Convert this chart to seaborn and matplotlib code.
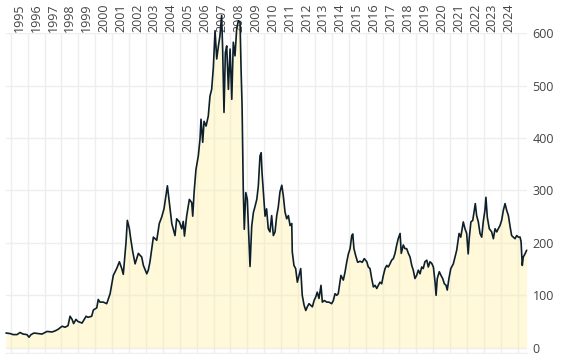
import matplotlib
matplotlib.use("Agg")
import matplotlib.pyplot as plt
import seaborn as sns

# decimal year of each reading
years = [
    1994.72, 1994.96, 1995.14, 1995.37, 1995.55, 1995.73, 1995.96, 1996.08, 1996.20, 1996.38,
    1996.62, 1996.85, 1997.15, 1997.44, 1997.62, 1997.80, 1998.04, 1998.21, 1998.39, 1998.51,
    1998.63, 1998.72, 1998.86, 1998.98, 1999.22, 1999.46, 1999.57, 1999.79, 1999.89, 2000.09,
    2000.18, 2000.28, 2000.48, 2000.68, 2000.88, 2001.07, 2001.27, 2001.43, 2001.57, 2001.66,
    2001.82, 2001.90, 2002.02, 2002.10, 2002.22, 2002.36, 2002.55, 2002.75, 2002.85, 2003.05,
    2003.14, 2003.24, 2003.44, 2003.64, 2003.79, 2003.93, 2004.07, 2004.19, 2004.27, 2004.38,
    2004.53, 2004.72, 2004.82, 2004.98, 2005.12, 2005.21, 2005.28, 2005.41, 2005.57, 2005.71,
    2005.77, 2005.85, 2005.96, 2006.10, 2006.20, 2006.26, 2006.36, 2006.44, 2006.56, 2006.69,
    2006.79, 2006.89, 2006.99, 2007.09, 2007.19, 2007.29, 2007.38, 2007.48, 2007.54, 2007.62,
    2007.70, 2007.78, 2007.88, 2007.98, 2008.08, 2008.17, 2008.27, 2008.37, 2008.47, 2008.57,
    2008.63, 2008.69, 2008.76, 2008.82, 2008.91, 2009.00, 2009.08, 2009.16, 2009.26, 2009.36,
    2009.46, 2009.56, 2009.65, 2009.75, 2009.82, 2009.87, 2009.95, 2010.05, 2010.14, 2010.24,
    2010.34, 2010.44, 2010.54, 2010.64, 2010.74, 2010.83, 2010.93, 2011.04, 2011.13, 2011.23,
    2011.33, 2011.43, 2011.53, 2011.63, 2011.66, 2011.76, 2011.86, 2011.96, 2012.06, 2012.16,
    2012.25, 2012.36, 2012.46, 2012.55, 2012.65, 2012.75, 2012.85, 2012.95, 2013.05, 2013.14,
    2013.24, 2013.36, 2013.44, 2013.56, 2013.70, 2013.83, 2013.99, 2014.09, 2014.19, 2014.29,
    2014.38, 2014.54, 2014.68, 2014.78, 2014.88, 2014.98, 2015.08, 2015.18, 2015.24, 2015.31,
    2015.41, 2015.53, 2015.67, 2015.80, 2015.92, 2016.07, 2016.16, 2016.26, 2016.36, 2016.46,
    2016.56, 2016.66, 2016.75, 2016.85, 2016.95, 2017.05, 2017.15, 2017.25, 2017.34, 2017.44,
    2017.54, 2017.64, 2017.74, 2017.84, 2017.93, 2018.04, 2018.11, 2018.23, 2018.33, 2018.43,
    2018.53, 2018.63, 2018.73, 2018.82, 2018.92, 2019.02, 2019.12, 2019.22, 2019.32, 2019.41,
    2019.51, 2019.62, 2019.71, 2019.81, 2019.91, 2020.01, 2020.11, 2020.17, 2020.24, 2020.36,
    2020.46, 2020.56, 2020.66, 2020.76, 2020.83, 2020.93, 2021.04, 2021.19, 2021.39, 2021.53,
    2021.63, 2021.78, 2021.88, 2021.98, 2022.07, 2022.13, 2022.23, 2022.34, 2022.43, 2022.49,
    2022.57, 2022.67, 2022.77, 2022.87, 2022.96, 2023.06, 2023.12, 2023.20, 2023.32, 2023.46,
    2023.56, 2023.66, 2023.76, 2023.85, 2023.95, 2024.05, 2024.15, 2024.25, 2024.35, 2024.45,
    2024.54, 2024.64, 2024.74, 2024.84, 2024.94, 2025.04, 2025.14, 2025.20, 2025.27, 2025.33,
    2025.43, 2025.53,
]

prices = [
    28, 27, 25, 25, 29, 26, 25, 20, 25, 28,
    27, 26, 31, 30, 32, 35, 41, 39, 42, 60,
    54, 46, 54, 50, 47, 60, 58, 60, 72, 76,
    92, 87, 87, 84, 103, 138, 151, 164, 151, 140,
    200, 243, 227, 208, 183, 160, 180, 173, 157, 141,
    148, 164, 211, 205, 237, 249, 265, 291, 309, 278,
    237, 214, 246, 240, 227, 241, 213, 251, 283, 277,
    251, 296, 340, 366, 398, 436, 392, 432, 423, 442,
    480, 493, 535, 605, 551, 576, 595, 634, 570, 449,
    563, 576, 493, 570, 474, 583, 557, 608, 624, 621,
    532, 461, 302, 226, 296, 283, 220, 155, 232, 258,
    270, 283, 308, 366, 372, 334, 296, 251, 265, 227,
    221, 252, 214, 221, 252, 268, 297, 310, 290, 259,
    246, 252, 233, 237, 183, 157, 151, 125, 138, 151,
    100, 81, 71, 78, 84, 81, 78, 90, 97, 106,
    94, 119, 87, 90, 87, 87, 84, 90, 103, 100,
    103, 138, 129, 144, 163, 179, 189, 214, 217, 189,
    176, 163, 165, 163, 170, 164, 154, 151, 132, 116,
    119, 113, 119, 125, 122, 138, 151, 157, 154, 160,
    167, 170, 180, 196, 208, 218, 180, 196, 189, 189,
    180, 173, 157, 148, 132, 138, 148, 141, 154, 151,
    164, 167, 154, 164, 161, 154, 125, 100, 132, 145,
    138, 132, 122, 119, 110, 132, 151, 160, 186, 218,
    211, 240, 227, 218, 179, 208, 240, 243, 262, 275,
    252, 240, 218, 211, 240, 262, 287, 249, 227, 221,
    208, 227, 221, 227, 233, 243, 262, 275, 262, 252,
    233, 214, 211, 208, 214, 211, 211, 202, 157, 173,
    179, 186,
]

year_labels = [str(y) for y in range(1995, 2025)]
y_ticks = [0, 100, 200, 300, 400, 500, 600]

sns.set_theme(style="white")
plt.rcParams['font.family'] = ['Open Sans', 'DejaVu Sans']

fig = plt.figure(figsize=(5.63, 3.54), dpi=100)
ax = fig.add_axes([6 / 563, 1 - 353.3 / 354, 521 / 563, 320 / 354])

ax.fill_between(years, prices, 0, color='#fff0a0', alpha=0.38, linewidth=0,
                zorder=2, clip_on=False)
sns.lineplot(x=years, y=prices, ax=ax, color='#0d1f2b', linewidth=1.2, zorder=3)
for l in ax.lines:
    l.set_clip_on(False)

ax.set_xlim(1994.72, 2025.55)
ax.set_ylim(-10.7, 600)

# gridlines at year starts, labels centred on each year (period labels)
ax.set_xticks(range(1995, 2026), minor=True)
ax.set_xticks([y + 0.5 for y in range(1995, 2025)])
ax.set_xticklabels(year_labels, rotation=90)
ax.xaxis.tick_top()
ax.tick_params(axis='x', which='both', length=0, pad=1, labelsize=9, colors='#444444')
ax.grid(True, axis='x', which='minor', color='#eeeeee', linewidth=1)
ax.grid(False, axis='x', which='major')

ax.yaxis.tick_right()
ax.set_yticks(y_ticks)
ax.tick_params(axis='y', length=0, pad=4, labelsize=9, colors='#444444')
ax.grid(True, axis='y', color='#eeeeee', linewidth=1)
ax.set_axisbelow(True)

ax.set_xlabel('')
ax.set_ylabel('')
for side in ['top', 'left', 'right']:
    ax.spines[side].set_visible(False)
ax.spines['bottom'].set_color('#eeeeee')
ax.spines['bottom'].set_linewidth(1)

fig.savefig('out.png', dpi=100)
